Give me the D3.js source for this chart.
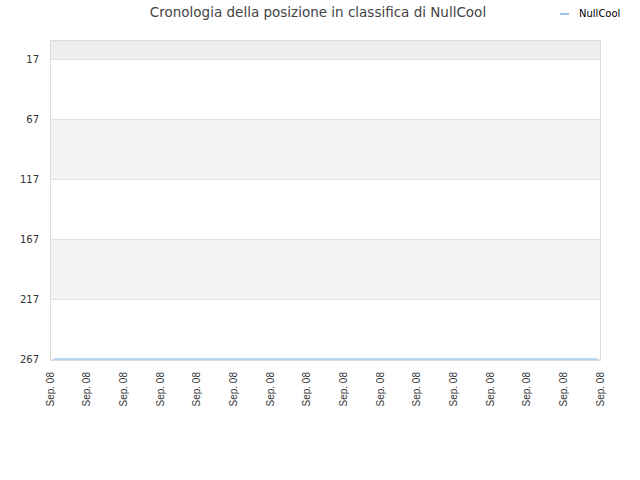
<!DOCTYPE html>
<html>
<head>
<meta charset="utf-8">
<script src="https://cdn.jsdelivr.net/npm/d3@7"></script>
<style>
  body { margin: 0; background: #fff; }
  text { font-family: "DejaVu Sans", sans-serif; }
</style>
</head>
<body>
<svg id="chart" width="640" height="480"></svg>
<script>
const svg = d3.select("#chart");

const title = "Cronologia della posizione in classifica di NullCool";
const seriesName = "NullCool";
const dateLabels = ["Sep. 08", "Sep. 08", "Sep. 08", "Sep. 08", "Sep. 08", "Sep. 08", "Sep. 08", "Sep. 08",
    "Sep. 08", "Sep. 08", "Sep. 08", "Sep. 08", "Sep. 08", "Sep. 08", "Sep. 08", "Sep. 08"];
const positions = [267, 267, 267, 267, 267, 267, 267, 267, 267, 267, 267, 267, 267, 267, 267, 267];
const yTicks = [17, 67, 117, 167, 217, 267];

const plotLeft = 50, plotRight = 600, plotTop = 40, plotBottom = 360;

const y = d3.scaleLinear().domain([1, 267]).range([plotTop, plotBottom - 1]);
const xLabels = d3.scalePoint().domain(d3.range(dateLabels.length)).range([plotLeft, plotRight]);
const xLine = d3.scaleLinear().domain([0, positions.length - 1]).range([plotLeft + 4, plotRight - 3]);

// bands between ticks
const bandEdges = [1].concat(yTicks);
const bands = d3.pairs(bandEdges);
svg.append("g").selectAll("rect")
    .data(bands)
    .join("rect")
    .attr("x", plotLeft)
    .attr("width", plotRight - plotLeft)
    .attr("y", d => y(d[0]))
    .attr("height", d => y(d[1]) - y(d[0]))
    .attr("fill", (d, i) => i === 0 ? "#eeeeee" : (i % 2 === 0 ? "#f3f3f3" : "#ffffff"));

// grid lines
svg.append("g").selectAll("line")
    .data(yTicks)
    .join("line")
    .attr("x1", plotLeft)
    .attr("x2", plotRight)
    .attr("y1", d => Math.round(y(d)) + 0.5)
    .attr("y2", d => Math.round(y(d)) + 0.5)
    .attr("stroke", "#e2e2e2");

// frame
svg.append("rect")
    .attr("x", plotLeft + 0.5)
    .attr("y", plotTop + 0.5)
    .attr("width", plotRight - plotLeft)
    .attr("height", plotBottom - plotTop)
    .attr("fill", "none")
    .attr("stroke", "#dcdcdc");

// y tick labels
svg.append("g").selectAll("text")
    .data(yTicks)
    .join("text")
    .attr("x", 39)
    .attr("y", d => y(d))
    .attr("dy", "0.35em")
    .attr("text-anchor", "end")
    .style("font-size", "10px")
    .style("fill", "#333")
    .text(d => d);

// x tick labels
svg.append("g").selectAll("text")
    .data(dateLabels)
    .join("text")
    .attr("transform", (d, i) => `translate(${xLabels(i) + 3.5}, 372) rotate(-90)`)
    .attr("text-anchor", "end")
    .style("font-family", "'Liberation Sans', Arial, sans-serif")
    .style("font-size", "10px")
    .style("fill", "#333")
    .text(d => d);

// series line
const line = d3.line()
    .x((d, i) => xLine(i))
    .y(d => y(d));

svg.append("path")
    .datum(positions)
    .attr("d", line)
    .attr("fill", "none")
    .attr("stroke", "#a6cbf0")
    .attr("stroke-width", 1.6);

// title
svg.append("text")
    .attr("x", 318)
    .attr("y", 17)
    .attr("text-anchor", "middle")
    .style("font-size", "13.5px")
    .style("fill", "#444")
    .text(title);

// legend
svg.append("line")
    .attr("x1", 560)
    .attr("x2", 569)
    .attr("y1", 14)
    .attr("y2", 14)
    .attr("stroke", "#99c4f0")
    .attr("stroke-width", 2);

svg.append("text")
    .attr("x", 579)
    .attr("y", 16)
    .attr("dy", "0.1em")
    .style("font-size", "10px")
    .style("fill", "#000")
    .text(seriesName);
</script>
</body>
</html>
